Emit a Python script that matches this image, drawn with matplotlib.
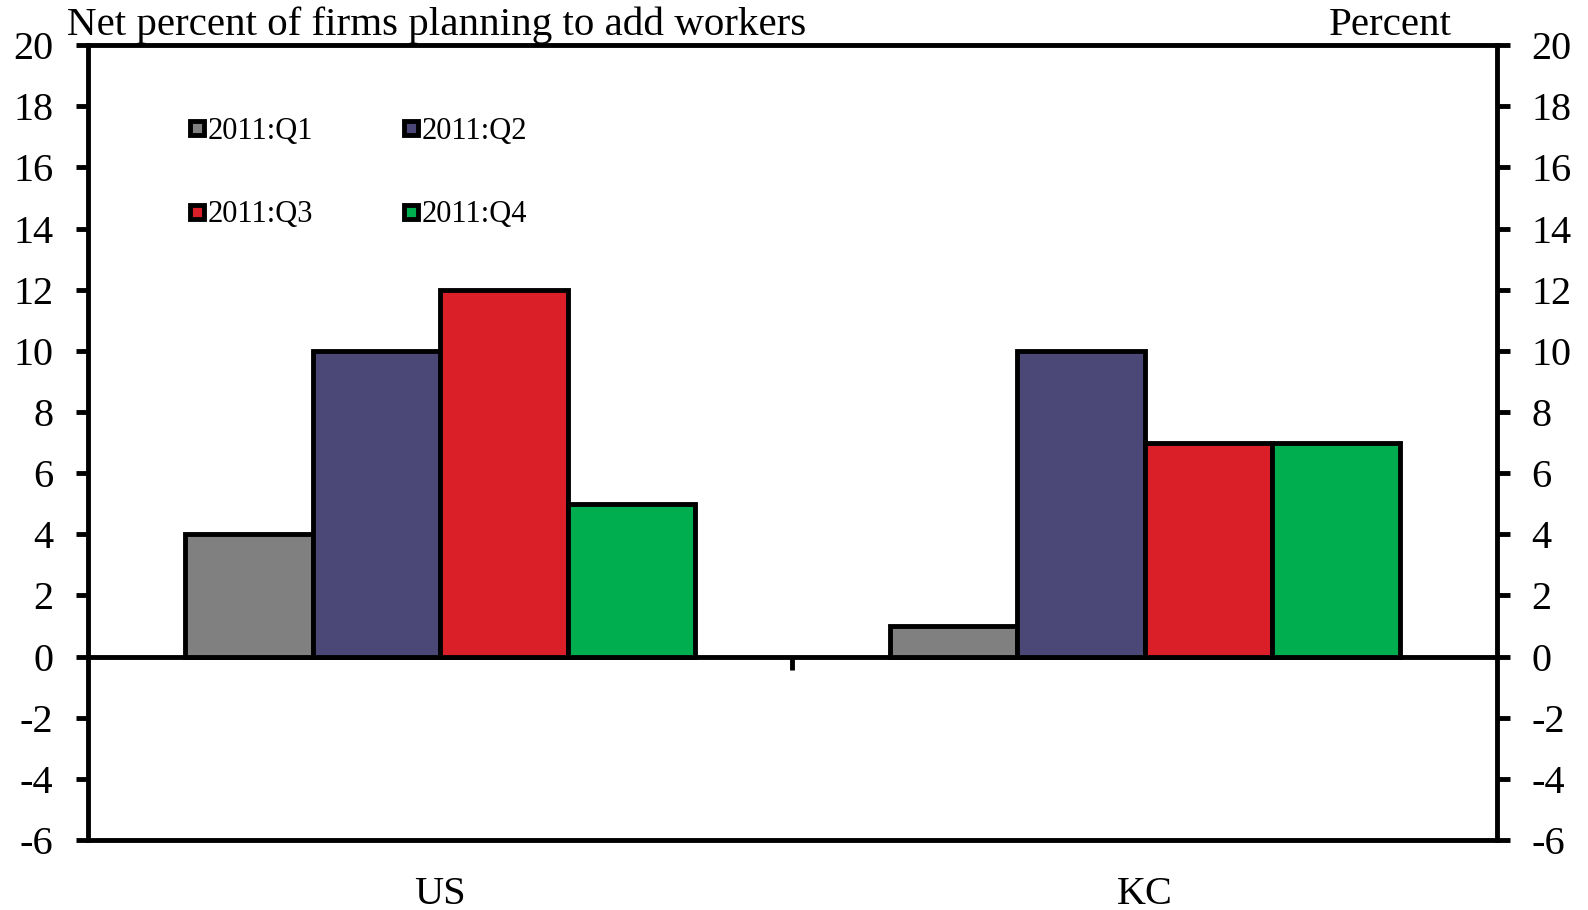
import matplotlib
matplotlib.use('Agg')
import matplotlib.pyplot as plt
from matplotlib.lines import Line2D
import numpy as np

plt.rcParams['font.family'] = ['Liberation Serif', 'DejaVu Serif']

regions = ['US', 'KC']
quarters = ['2011:Q1', '2011:Q2', '2011:Q3', '2011:Q4']
q1 = [4, 1]
q2 = [10, 10]
q3 = [12, 7]
q4 = [5, 7]
colors = ['#808080', '#4b4878', '#da1f28', '#00ae50']
yticks = list(range(-6, 21, 2))

fig = plt.figure(figsize=(15.88, 9.10), dpi=100)
ax = fig.add_axes([0.0554, 0.0769, 0.8873, 0.8736])

x = np.arange(len(regions))
w = 0.181
for i, vals in enumerate([q1, q2, q3, q4]):
    ax.bar(x + (i - 1.5) * w, vals, width=w, color=colors[i],
           edgecolor='black', linewidth=3.5, zorder=2)

ax.set_xlim(-0.5, 1.5)
ax.set_ylim(-6, 20)
ax.set_yticks(yticks)
ax.set_yticklabels([str(t) for t in yticks])
ax.set_xticks(x)
ax.set_xticklabels(regions)

for s in ax.spines.values():
    s.set_linewidth(3.5)
ax.tick_params(axis='y', direction='out', length=9, width=3.5, labelsize=29,
               pad=16, right=True, labelright=True)
ax.tick_params(axis='x', length=0, labelsize=29, pad=26)

# zero line with the category divider tick
zloc = (0 - (-6)) / (20 - (-6))
sec = ax.secondary_xaxis(zloc)
sec.set_xticks([0.5])
sec.set_xticklabels([])
sec.spines['bottom'].set_linewidth(3.5)
sec.tick_params(direction='out', length=9, width=3.5)

handles = [Line2D([], [], marker='s', linestyle='none', markersize=10,
                  markeredgewidth=3.5, markeredgecolor='black',
                  markerfacecolor=c) for c in colors]
order = [0, 2, 1, 3]
ax.legend([handles[k] for k in order], [quarters[k] for k in order],
          ncol=2, loc='upper left', bbox_to_anchor=(0.062, 0.925),
          frameon=False, fontsize=22, handlelength=0.6, handletextpad=0.05,
          columnspacing=2.9, labelspacing=1.78, borderaxespad=0)

fig.text(0.042, 0.961, 'Net percent of firms planning to add workers',
         fontsize=29.5, ha='left', va='baseline')
fig.text(0.914, 0.961, 'Percent', fontsize=29.5, ha='right', va='baseline')

plt.savefig('out.png', dpi=100)
